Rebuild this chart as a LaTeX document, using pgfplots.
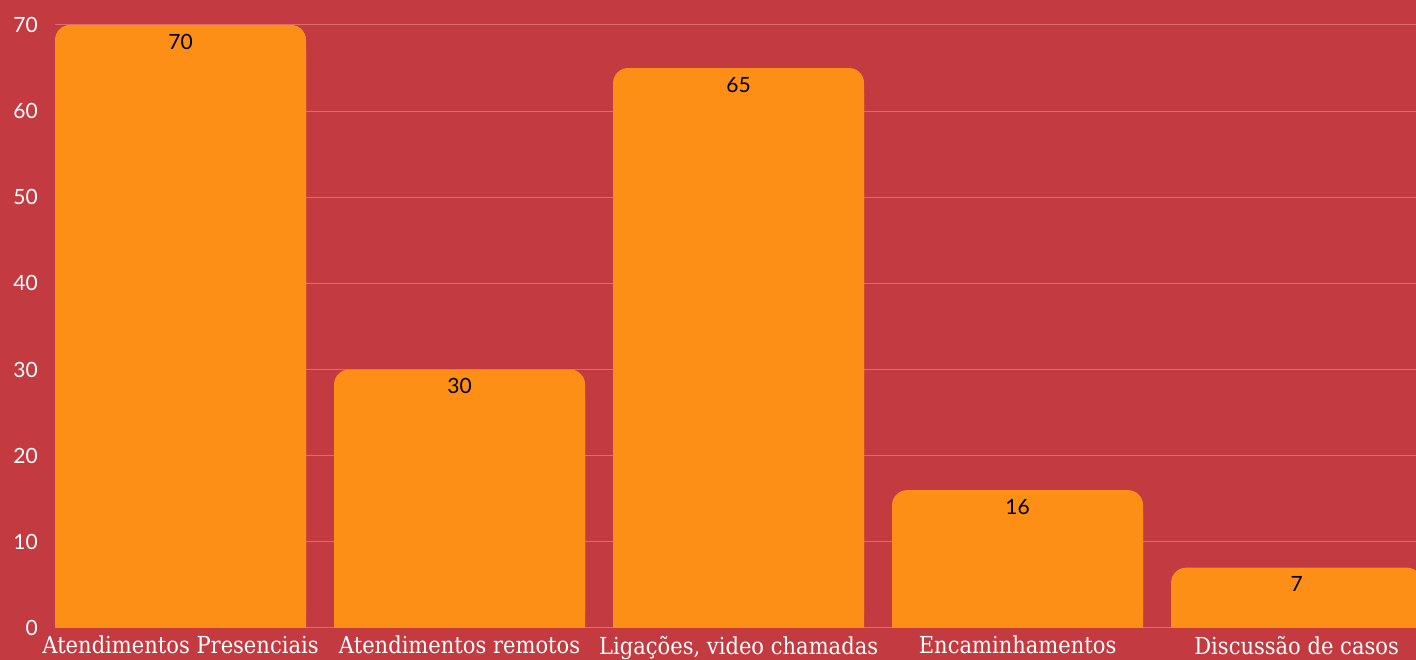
\documentclass[border=0pt]{standalone}
\usepackage{pgfplots}
\usepackage{pgfplotstable}
\pgfplotsset{compat=1.18}
\usepackage{fontspec}
\setmainfont{Lato}
\newfontfamily\slab{DejaVu Serif Condensed}
\definecolor{bg}{RGB}{195,58,64}
\definecolor{barc}{RGB}{254,143,22}
\definecolor{gridc}{RGB}{214,110,114}
\pgfplotstableread{
x v
0 70
1 30
2 65
3 16
4 7
}\datatable
\begin{document}
\begin{tikzpicture}
\fill[bg] (0,0) rectangle (1416pt,660pt);
\path[use as bounding box] (0,0) rectangle (1416pt,660pt);
\begin{axis}[
  at={(55pt,32pt)}, anchor=south west,
  scale only axis, width=1361pt, height=628pt,
  xmin=-0.45, xmax=4.428, ymin=0, ymax=72.9,
  axis line style={draw=none},
  major tick length=0pt,
  ytick={0,10,...,70},
  ymajorgrids, grid style={gridc, line width=1pt},
  xtick={0,1,2,3,4},
  xticklabels={Atendimentos Presenciais, Atendimentos remotos, {Ligações, video chamadas}, Encaminhamentos, Discussão de casos},
  /pgf/number format/assume math mode=true,
  yticklabel style={font=\fontsize{21}{21}\selectfont, text=white, inner sep=0pt, xshift=-17pt},
  xticklabel style={font=\slab\fontsize{23.4}{23.4}\selectfont, text=white, inner sep=0pt, yshift=-8pt, anchor=north},
  clip=true,
]
\addplot[ybar, bar width=251pt, bar shift=0pt, fill=barc, draw=none]
  table[x=x, y expr=\thisrow{v}-3]{\datatable};
\addplot[ybar, bar width=251pt, bar shift=0pt, fill=barc, draw=none, rounded corners=15pt,
  nodes near coords,
  every node near coord/.append style={font=\fontsize{21}{21}\selectfont, text=black, anchor=north, inner sep=0pt, yshift=-9pt, rounded corners=0pt}]
  table[x=x, y=v]{\datatable};
\end{axis}
\end{tikzpicture}
\end{document}
